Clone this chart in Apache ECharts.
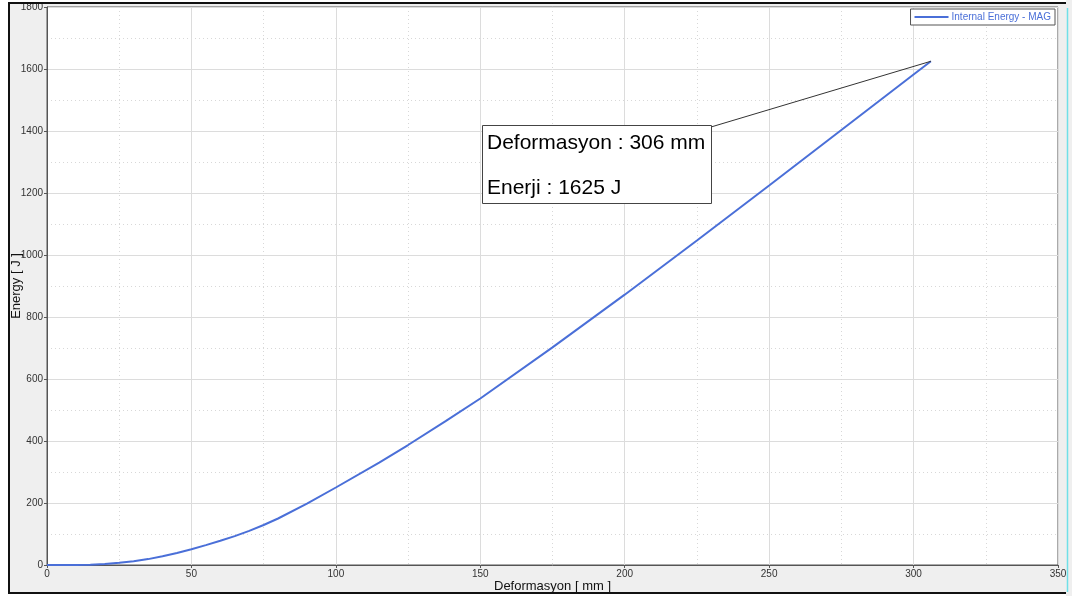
<!DOCTYPE html>
<html>
<head>
<meta charset="utf-8">
<script src="https://cdn.jsdelivr.net/npm/echarts@6/dist/echarts.min.js"></script>
<style>
  html, body { margin: 0; padding: 0; background: #ffffff; }
  #chart { width: 1072px; height: 596px; }
</style>
</head>
<body>
<div id="chart"></div>
<script>
// Internal energy vs. deformation curve
const deformation = [0, 10, 15, 20, 25, 30, 35, 40, 45, 50, 55, 60, 65, 70, 75, 80, 90, 100, 115, 125, 138, 150, 175, 200, 225, 250, 275, 300, 306];
const energy      = [0, 0, 1, 3, 7, 12, 19, 28, 39, 51, 64, 78, 93, 110, 129, 150, 198, 250, 330, 387, 464, 537, 702, 872, 1047, 1224, 1403, 1582, 1625];
const seriesName = 'Internal Energy - MAG';
const xAxisTitle = 'Deformasyon [ mm ]';
const yAxisTitle = 'Energy [ J ]';
const peakLabels = ['Deformasyon', 'Enerji'];

const points = deformation.map((d, i) => [d, energy[i]]);
const last = points[points.length - 1];

const chart = echarts.init(document.getElementById('chart'), null, { renderer: 'canvas' });
const baseFont = 'Liberation Sans, Arial, sans-serif';
const tickLabel = {
  margin: 4, fontFamily: baseFont, fontSize: 10, color: '#333333',
  formatter: v => String(v)
};

chart.setOption({
  animation: false,
  backgroundColor: '#efefef',
  grid: {
    left: 47, top: 7, right: 14, bottom: 31,
    containLabel: false, outerBoundsMode: 'none',
    show: true, backgroundColor: '#ffffff', borderColor: '#555555', borderWidth: 1
  },
  legend: {
    right: 17, top: 9,
    padding: [3, 4, 3, 4],
    itemGap: 0,
    itemWidth: 34, itemHeight: 2,
    icon: 'rect',
    backgroundColor: '#ffffff',
    borderColor: '#555555', borderWidth: 1,
    textStyle: { color: '#4a6fd8', fontFamily: baseFont, fontSize: 10, padding: [0, 0, 0, -2] },
    data: [seriesName]
  },
  xAxis: {
    type: 'value', min: 0, max: 350, interval: 50,
    name: xAxisTitle, nameLocation: 'middle', nameGap: 15, nameMoveOverlap: false,
    nameTextStyle: { fontFamily: baseFont, fontSize: 13, color: '#111111' },
    axisLine: { show: true, lineStyle: { color: '#555555', width: 1 } },
    axisTick: { show: true, length: 3, lineStyle: { color: '#555555' } },
    axisLabel: tickLabel,
    splitLine: { show: true, lineStyle: { color: '#dcdcdc', width: 1 } },
    minorTick: { show: true, splitNumber: 2, length: 0 },
    minorSplitLine: { show: true, lineStyle: { color: '#d8d8d8', type: [1, 3], width: 1 } }
  },
  yAxis: {
    type: 'value', min: 0, max: 1800, interval: 200,
    name: yAxisTitle, nameLocation: 'middle', nameGap: 24, nameRotate: 90, nameMoveOverlap: false,
    nameTextStyle: { fontFamily: baseFont, fontSize: 13, color: '#111111' },
    axisLine: { show: true, lineStyle: { color: '#555555', width: 1 } },
    axisTick: { show: true, length: 3, lineStyle: { color: '#555555' } },
    axisLabel: tickLabel,
    splitLine: { show: true, lineStyle: { color: '#dcdcdc', width: 1 } },
    minorTick: { show: true, splitNumber: 2, length: 0 },
    minorSplitLine: { show: true, lineStyle: { color: '#d8d8d8', type: [1, 3], width: 1 } }
  },
  series: [{
    name: seriesName,
    type: 'line',
    data: points,
    smooth: false,
    showSymbol: false,
    symbol: 'none',
    lineStyle: { color: '#4a6fd8', width: 2 },
    itemStyle: { color: '#4a6fd8' },
    z: 3
  }]
});

// Frame, peak annotation box and its leader line
const peakPx = chart.convertToPixel({ gridIndex: 0 }, last);
const box = { x: 482, y: 125, w: 229, h: 78 };

chart.setOption({
  graphic: [
    // white margin outside the black frame
    { type: 'rect', z: 40, silent: true, shape: { x: 0, y: 0, width: 8, height: 596 }, style: { fill: '#ffffff' } },
    { type: 'rect', z: 40, silent: true, shape: { x: 0, y: 0, width: 1066, height: 3 }, style: { fill: '#ffffff' } },
    { type: 'rect', z: 40, silent: true, shape: { x: 0, y: 593, width: 1066, height: 3 }, style: { fill: '#ffffff' } },
    {
      type: 'polyline', z: 50, silent: true,
      shape: { points: [[1066, 3], [9, 3], [9, 593], [1066, 593]] },
      style: { stroke: '#111111', lineWidth: 2, fill: null }
    },
    {
      type: 'line', z: 50, silent: true,
      shape: { x1: 1067.5, y1: 8, x2: 1067.5, y2: 592 },
      style: { stroke: '#6fe0e8', lineWidth: 1.5 }
    },
    {
      type: 'line', z: 50, silent: true,
      shape: { x1: box.x + box.w, y1: box.y + 2, x2: peakPx[0], y2: peakPx[1] },
      style: { stroke: '#333333', lineWidth: 1 }
    },
    {
      type: 'rect', z: 50, silent: true,
      shape: { x: box.x + 0.5, y: box.y + 0.5, width: box.w, height: box.h },
      style: { fill: '#ffffff', stroke: '#444444', lineWidth: 1 }
    },
    {
      type: 'text', z: 51, silent: true,
      x: box.x + 5, y: box.y + 18,
      style: {
        text: peakLabels[0] + ' : ' + last[0] + ' mm',
        font: '21px ' + baseFont, fill: '#000000', verticalAlign: 'middle'
      }
    },
    {
      type: 'text', z: 51, silent: true,
      x: box.x + 5, y: box.y + 63,
      style: {
        text: peakLabels[1] + ' : ' + last[1] + ' J',
        font: '21px ' + baseFont, fill: '#000000', verticalAlign: 'middle'
      }
    }
  ]
});
</script>
</body>
</html>
